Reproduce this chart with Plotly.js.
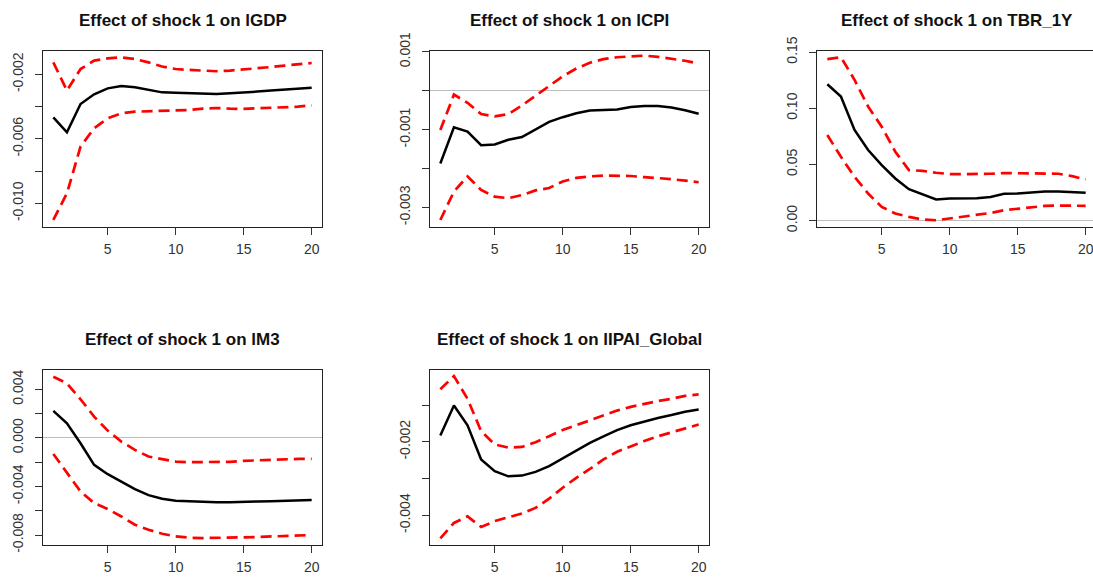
<!DOCTYPE html>
<html>
<head>
<meta charset="utf-8">
<script src="https://cdn.plot.ly/plotly-3.0.1.min.js"></script>
<style>
html,body{margin:0;padding:0;overflow:hidden;background:#fff;}
#chart{width:1097px;height:577px;}
</style>
</head>
<body>
<div id="chart"></div>
<script>
// Horizon (periods)
const horizon = [1,2,3,4,5,6,7,8,9,10,11,12,13,14,15,16,17,18,19,20];

// Titles
const titles = [
  "Effect of shock 1 on lGDP",
  "Effect of shock 1 on lCPI",
  "Effect of shock 1 on TBR_1Y",
  "Effect of shock 1 on lM3",
  "Effect of shock 1 on lIPAI_Global"
];

// lGDP
const gdpIrf   = [-0.00467,-0.0056,-0.00384,-0.00324,-0.00287,-0.00272,-0.0028,-0.00297,-0.00312,-0.00314,-0.00316,-0.0032,-0.00322,-0.00318,-0.00314,-0.00307,-0.003,-0.00293,-0.00289,-0.00283];
const gdpUpper = [-0.00126,-0.00301,-0.00167,-0.00115,-0.00101,-0.00095,-0.00105,-0.00126,-0.00152,-0.00167,-0.00173,-0.00179,-0.00181,-0.00177,-0.00171,-0.00163,-0.00155,-0.00146,-0.00138,-0.0013];
const gdpLower = [-0.01103,-0.00938,-0.00649,-0.00535,-0.00473,-0.00442,-0.00432,-0.00429,-0.00429,-0.00427,-0.00421,-0.00413,-0.00409,-0.00413,-0.00415,-0.00411,-0.00407,-0.00405,-0.00401,-0.00392];

// lCPI
const cpiIrf   = [-0.00187,-0.00094,-0.00105,-0.0014,-0.00138,-0.00126,-0.00119,-0.001,-0.0008,-0.00068,-0.00058,-0.00051,-0.0005,-0.00048,-0.00042,-0.00039,-0.00039,-0.00043,-0.0005,-0.00059];
const cpiUpper = [-0.00101,-0.0001,-0.00031,-0.0006,-0.00066,-0.0006,-0.00038,-0.00012,0.00012,0.00037,0.00057,0.00072,0.00081,0.00086,0.00088,0.0009,0.00087,0.00082,0.00077,0.0007];
const cpiLower = [-0.00332,-0.00259,-0.0022,-0.00255,-0.00272,-0.00276,-0.00268,-0.00256,-0.0025,-0.00233,-0.00224,-0.0022,-0.00218,-0.00218,-0.00219,-0.00222,-0.00224,-0.00227,-0.00231,-0.00235];

// TBR_1Y
const tbrIrf   = [0.1214,0.1104,0.0807,0.0628,0.0494,0.0375,0.028,0.0235,0.0188,0.0196,0.0196,0.0199,0.0211,0.0238,0.0241,0.025,0.0259,0.0259,0.0253,0.0247];
const tbrUpper = [0.1438,0.1455,0.1253,0.1015,0.0836,0.0613,0.0449,0.0443,0.0426,0.0414,0.0414,0.0414,0.0417,0.0423,0.0423,0.0423,0.042,0.0417,0.0396,0.0366];
const tbrLower = [0.0762,0.0568,0.039,0.0241,0.0122,0.0063,0.0033,0.0009,0.0003,0.0018,0.0033,0.0048,0.0068,0.0092,0.0104,0.0119,0.0131,0.0134,0.0134,0.0131];

// lM3
const m3Irf   = [0.00222,0.0012,-0.00044,-0.00222,-0.00299,-0.00359,-0.00422,-0.00471,-0.00501,-0.00518,-0.00523,-0.00529,-0.00529,-0.00529,-0.00529,-0.00523,-0.00521,-0.00518,-0.00512,-0.00512];
const m3Upper = [0.00504,0.00449,0.00318,0.00175,0.0006,-0.0003,-0.00099,-0.00153,-0.00175,-0.00195,-0.002,-0.002,-0.002,-0.00197,-0.00189,-0.00184,-0.00181,-0.00175,-0.00173,-0.00173];
const m3Lower = [-0.00132,-0.0029,-0.00441,-0.00537,-0.00586,-0.00647,-0.00715,-0.00756,-0.00789,-0.00811,-0.00822,-0.00825,-0.00825,-0.00822,-0.00819,-0.00816,-0.00811,-0.00805,-0.008,-0.008];

// lIPAI_Global
const ipaiIrf   = [-0.00183,-0.00101,-0.00155,-0.00248,-0.0028,-0.00294,-0.00292,-0.00282,-0.00266,-0.00245,-0.00224,-0.00203,-0.00185,-0.00168,-0.00155,-0.00144,-0.00135,-0.00127,-0.00118,-0.00112];
const ipaiUpper = [-0.00057,-0.00021,-0.00083,-0.00171,-0.00207,-0.00216,-0.00214,-0.00201,-0.00185,-0.00168,-0.00155,-0.00141,-0.00128,-0.00115,-0.00105,-0.00096,-0.00089,-0.00083,-0.00075,-0.00071];
const ipaiLower = [-0.00463,-0.00421,-0.00403,-0.00432,-0.00416,-0.00405,-0.00395,-0.0038,-0.00355,-0.00325,-0.00298,-0.00274,-0.00248,-0.00227,-0.00212,-0.00198,-0.00185,-0.00174,-0.00164,-0.00153];

// Tick values and labels
const xTicks = [5,10,15,20];
const yTickVals = [
  [-0.010,-0.008,-0.006,-0.004,-0.002],
  [-0.003,-0.002,-0.001,0,0.001],
  [0,0.05,0.10,0.15],
  [-0.008,-0.006,-0.004,-0.002,0,0.002,0.004],
  [-0.004,-0.003,-0.002,-0.001]
];
const yTickText = [
  ["-0.010","","-0.006","","-0.002"],
  ["-0.003","","-0.001","","0.001"],
  ["0.00","0.05","0.10","0.15"],
  ["-0.008","","-0.004","","0.000","","0.004"],
  ["-0.004","","-0.002",""]
];

const series = [
  [gdpIrf, gdpUpper, gdpLower],
  [cpiIrf, cpiUpper, cpiLower],
  [tbrIrf, tbrUpper, tbrLower],
  [m3Irf, m3Upper, m3Lower],
  [ipaiIrf, ipaiUpper, ipaiLower]
];

// Layout geometry (pixels)
const W = 1097, H = 577;
const boxes = [
  {x0:43,  x1:322,  y0:51,  y1:227},
  {x0:430, x1:709,  y0:51,  y1:227},
  {x0:817, x1:1096, y0:51,  y1:227},
  {x0:43,  x1:322,  y0:370, y1:545},
  {x0:430, x1:709,  y0:370, y1:545}
];
const yRanges = [
  [-0.01147,-0.000555],
  [-0.0035,0.00102],
  [-0.0057,0.151],
  [-0.00882,0.00559],
  [-0.00481,-0.000045]
];

const traces = [];
const layout = {
  width: W, height: H,
  margin: {l:0,r:0,t:0,b:0},
  paper_bgcolor: '#fff', plot_bgcolor: '#fff',
  showlegend: false,
  font: {family: 'Liberation Sans, Arial, sans-serif', color: '#222'},
  annotations: []
};

series.forEach((s, i) => {
  const n = i + 1;
  const sfx = (n === 1 ? '' : String(n));
  traces.push({x: horizon, y: s[1], xaxis: 'x' + sfx, yaxis: 'y' + sfx, mode: 'lines',
    line: {color: '#ff0000', width: 2.7, dash: '11px,6px'}, hoverinfo: 'skip'});
  traces.push({x: horizon, y: s[2], xaxis: 'x' + sfx, yaxis: 'y' + sfx, mode: 'lines',
    line: {color: '#ff0000', width: 2.7, dash: '11px,6px'}, hoverinfo: 'skip'});
  traces.push({x: horizon, y: s[0], xaxis: 'x' + sfx, yaxis: 'y' + sfx, mode: 'lines',
    line: {color: '#000000', width: 2.5}, hoverinfo: 'skip'});

  const b = boxes[i];
  const axisCommon = {
    showline: true, mirror: true, linecolor: '#222', linewidth: 1,
    ticks: 'outside', ticklen: 7, tickcolor: '#333', tickwidth: 1,
    showgrid: false,
    tickfont: {family: 'Liberation Sans, Arial, sans-serif', size: 14, color: '#333'}
  };
  layout['xaxis' + sfx] = Object.assign({}, axisCommon, {
    domain: [b.x0 / W, b.x1 / W],
    anchor: 'y' + sfx,
    range: [0.24, 20.76],
    tickmode: 'array', tickvals: xTicks, ticktext: xTicks.map(String),
    zeroline: false,
    ticklabelstandoff: 2
  });
  layout['yaxis' + sfx] = Object.assign({}, axisCommon, {
    domain: [1 - b.y1 / H, 1 - b.y0 / H],
    anchor: 'x' + sfx,
    range: yRanges[i],
    tickmode: 'array', tickvals: yTickVals[i], ticktext: yTickText[i],
    tickangle: -90,
    zeroline: true, zerolinecolor: '#bebebe', zerolinewidth: 1,
    ticklabelstandoff: 6
  });
  layout.annotations.push({
    text: '<b>' + titles[i] + '</b>',
    xref: 'paper', yref: 'paper',
    x: (b.x0 + b.x1) / 2 / W,
    y: 1 - (b.y0 - 31) / H,
    xanchor: 'center', yanchor: 'middle',
    showarrow: false,
    font: {family: 'Liberation Sans, Arial, sans-serif', size: 17, color: '#111'}
  });
});

Plotly.newPlot('chart', traces, layout, {staticPlot: true, displayModeBar: false});
</script>
</body>
</html>
